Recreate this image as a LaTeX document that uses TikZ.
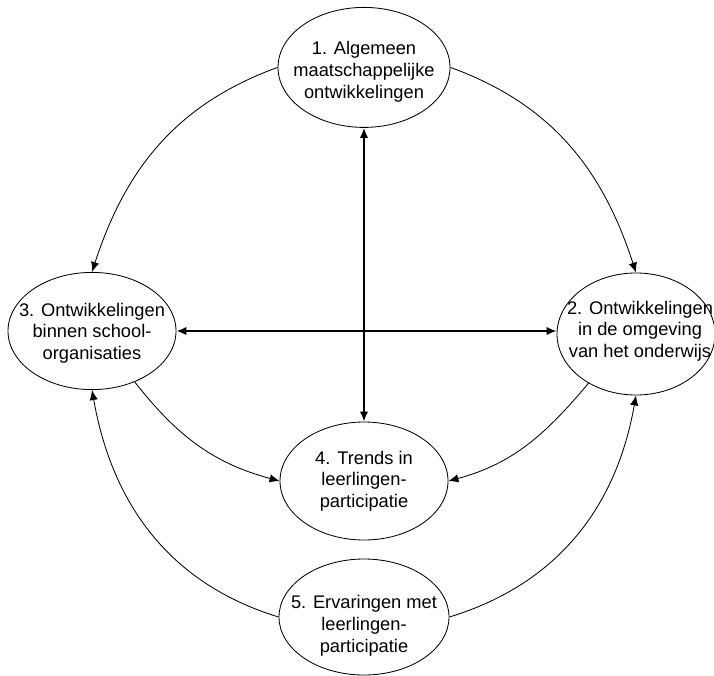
\documentclass[tikz,border=0pt]{standalone}
\usepackage{fontspec}
\setmainfont{Liberation Sans}
\usepackage{tikz}
\usetikzlibrary{positioning, shapes.geometric, arrows.meta}

\begin{document}
\begin{tikzpicture}[
      blob/.style={ellipse, draw, line width=0.6pt, inner sep=0pt},
      txt/.style={align=center, inner sep=0pt, font=\fontsize{13}{15.4}\selectfont},
      flow/.style={->, line width=0.6pt},
      link/.style={<->, line width=1.3pt},
      >={Latex[length=2.5mm, width=2.1mm]}
  ]
    \useasboundingbox (0,0) rectangle (17.85,16.875);

    % --- Ellipses ---
    \node[blob, minimum width=4.3cm,  minimum height=3.0cm]  (e1) at (9.1, 15.19) {};
    \node[blob, minimum width=3.95cm, minimum height=3.05cm] (e2) at (15.9, 8.525) {};
    \node[blob, minimum width=4.2cm,  minimum height=2.93cm] (e3) at (2.3, 8.6)   {};
    \node[blob, minimum width=4.2cm,  minimum height=2.95cm] (e4) at (9.1, 4.85)  {};
    \node[blob, minimum width=4.25cm, minimum height=2.9cm]  (e5) at (9.1, 1.45)  {};

    % --- Texts ---
    \node[txt] (t1) at (9.1, 15.08) {1. Algemeen\\maatschappelijke\\ontwikkelingen};
    \node[txt] (t2) at (16.0, 8.6)  {2. Ontwikkelingen\\in de omgeving\\van het onderwijs};
    \node[txt] (t3) at (2.3, 8.55)  {3. Ontwikkelingen\\binnen school-\\organisaties};
    \node[txt] (t4) at (9.1, 4.85)  {4. Trends in\\leerlingen-\\participatie};
    \node[txt] (t5) at (9.1, 1.23)  {5. Ervaringen met\\leerlingen-\\participatie};

    % --- Straight two-way arrows ---
    \draw[link] (e1.south) -- (e4.north);
    \draw[link] (e3.east) -- (e3.east -| e2.west);

    % --- Curved arrows ---
    \draw[flow] (e1.west) to[out=200, in=72] (e3.north);
    \draw[flow] (e1.east) to[out=-20, in=108] (e2.north);
    \draw[flow] (e3.-50) to[out=-52, in=165] (e4.west);
    \draw[flow] (e2.-134) to[out=230, in=15] (e4.east);
    \draw[flow] (e5.west) to[out=163, in=280] (e3.south);
    \draw[flow] (e5.east) to[out=17, in=260] (e2.south);

  \end{tikzpicture}
\end{document}
